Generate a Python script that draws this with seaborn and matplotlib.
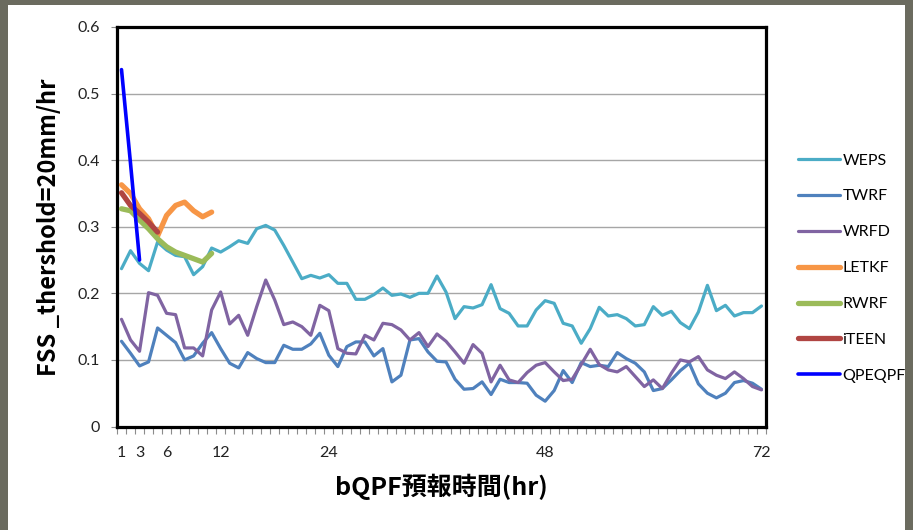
import numpy as np
import pandas as pd
import matplotlib
matplotlib.use("Agg")
import matplotlib.pyplot as plt
import seaborn as sns
from matplotlib.patches import Rectangle

# ---------------- data ----------------
hours = list(range(1, 73))
tick_hours = [1, 3, 6, 12, 24, 48, 72]

weps = [0.237, 0.264, 0.245, 0.234, 0.277, 0.265, 0.257, 0.255, 0.228, 0.240,
        0.268, 0.262, 0.270, 0.279, 0.275, 0.297, 0.302, 0.295, 0.272, 0.247,
        0.222, 0.227, 0.223, 0.228, 0.215, 0.215, 0.191, 0.191, 0.198, 0.208,
        0.197, 0.199, 0.194, 0.200, 0.200, 0.226, 0.202, 0.162, 0.180, 0.178,
        0.183, 0.213, 0.177, 0.170, 0.151, 0.151, 0.175, 0.189, 0.185, 0.155,
        0.151, 0.125, 0.147, 0.179, 0.166, 0.168, 0.162, 0.151, 0.153, 0.180,
        0.167, 0.173, 0.156, 0.147, 0.172, 0.212, 0.174, 0.182, 0.166, 0.171,
        0.171, 0.181]

twrf = [0.128, 0.110, 0.091, 0.097, 0.148, 0.137, 0.126, 0.100, 0.106, 0.125,
        0.141, 0.117, 0.095, 0.088, 0.111, 0.102, 0.096, 0.096, 0.122, 0.116,
        0.116, 0.124, 0.140, 0.107, 0.090, 0.120, 0.127, 0.127, 0.106, 0.117,
        0.067, 0.077, 0.130, 0.132, 0.112, 0.098, 0.097, 0.071, 0.056, 0.057,
        0.067, 0.048, 0.071, 0.066, 0.066, 0.065, 0.047, 0.038, 0.054, 0.084,
        0.066, 0.096, 0.090, 0.092, 0.090, 0.111, 0.102, 0.095, 0.082, 0.054,
        0.057, 0.070, 0.084, 0.095, 0.064, 0.050, 0.043, 0.050, 0.066, 0.069,
        0.065, 0.056]

wrfd = [0.161, 0.130, 0.113, 0.201, 0.197, 0.170, 0.168, 0.118, 0.118, 0.106,
        0.175, 0.202, 0.154, 0.167, 0.137, 0.180, 0.220, 0.190, 0.153, 0.157,
        0.150, 0.137, 0.182, 0.174, 0.117, 0.110, 0.109, 0.137, 0.130, 0.155,
        0.153, 0.145, 0.130, 0.141, 0.120, 0.139, 0.128, 0.112, 0.095, 0.123,
        0.110, 0.067, 0.092, 0.070, 0.066, 0.081, 0.092, 0.096, 0.082, 0.069,
        0.071, 0.093, 0.116, 0.093, 0.085, 0.082, 0.090, 0.075, 0.060, 0.070,
        0.057, 0.080, 0.100, 0.097, 0.105, 0.085, 0.077, 0.072, 0.082, 0.072,
        0.060, 0.055]

letkf = [0.363, 0.350, 0.327, 0.312, 0.286, 0.317, 0.332, 0.337, 0.324, 0.315, 0.322]
rwrf = [0.327, 0.324, 0.310, 0.297, 0.282, 0.270, 0.262, 0.257, 0.252, 0.247, 0.260]
iteen = [0.351, 0.332, 0.320, 0.307, 0.292]
qpeqpf = [0.536, 0.395, 0.250]

series_names = ["WEPS", "TWRF", "WRFD", "LETKF", "RWRF", "iTEEN", "QPEQPF"]
series_vals = [weps, twrf, wrfd, letkf, rwrf, iteen, qpeqpf]
colors = ["#4bacc6", "#4f81bd", "#8064a2", "#f79646", "#9bbb59", "#b04542", "#0000ff"]
widths = [2.3, 2.3, 2.3, 3.8, 3.8, 3.8, 2.6]

# ---------------- figure ----------------
fig = plt.figure(figsize=(9.13, 5.30), dpi=100)
fig.patch.set_facecolor("#6b6b5f")
fig.patches.append(Rectangle((8 / 913, 0), (905 - 8) / 913, 1 - 5 / 530,
                             transform=fig.transFigure, facecolor="white",
                             edgecolor="none", zorder=-10))

ax = fig.add_axes([117 / 913, 1 - 426.5 / 530, (766 - 117) / 913, (426.5 - 27) / 530])
ax.set_facecolor("white")
ax.set_zorder(1)

for name, vals, c, lw in zip(series_names, series_vals, colors, widths):
    df = pd.DataFrame({"hour": hours[:len(vals)], "fss": vals})
    sns.lineplot(data=df, x="hour", y="fss", ax=ax, color=c, linewidth=lw,
                 label=name, legend=False, solid_capstyle="round",
                 solid_joinstyle="round", zorder=3)

ax.set_xlim(0.5, 72.5)
ax.set_ylim(0, 0.6)
ax.set_yticks(np.arange(0, 0.61, 0.1))
ax.set_yticklabels(["0", "0.1", "0.2", "0.3", "0.4", "0.5", "0.6"])
ax.set_xticks(tick_hours)
ax.set_xticklabels([str(t) for t in tick_hours])
ax.set_xticks(np.arange(0.5, 73, 1.0), minor=True)

ax.yaxis.grid(True, color="#a6a6a6", linewidth=1.0)
ax.xaxis.grid(False)
ax.set_axisbelow(True)

for sp in ax.spines.values():
    sp.set_color("black")
    sp.set_linewidth(2.3)
    sp.set_visible(True)

tick_font = "Lato"
ax.tick_params(axis="x", which="major", length=0, pad=14, labelsize=11.5,
               colors="#222222")
ax.tick_params(axis="x", which="minor", length=5, width=0.8, color="#8c8c8c",
               direction="out")
ax.tick_params(axis="y", which="major", length=4, width=0.8, color="#8c8c8c",
               direction="out", pad=8, labelsize=11.5, labelcolor="#222222")
for lab in ax.get_xticklabels() + ax.get_yticklabels():
    lab.set_fontfamily(tick_font)

ax.set_xlabel("bQPF預報時間(hr)", fontsize=18, fontweight="bold",
              family=["Noto Sans CJK TC", "DejaVu Sans"], labelpad=10)
ax.set_ylabel("FSS _thershold=20mm/hr", fontsize=17, fontweight="bold",
              family=["Noto Sans CJK TC", "DejaVu Sans"], labelpad=12)

handles, labels = ax.get_legend_handles_labels()
leg = fig.legend(handles, labels, loc="upper left",
                 bbox_to_anchor=(792 / 913, 1 - 147 / 530),
                 frameon=False, prop={"family": tick_font, "size": 11.5},
                 handlelength=2.6, handletextpad=0.15, labelspacing=1.36,
                 borderaxespad=0)
leg.set_zorder(5)

fig.savefig("out.png", dpi=100, facecolor=fig.get_facecolor())
